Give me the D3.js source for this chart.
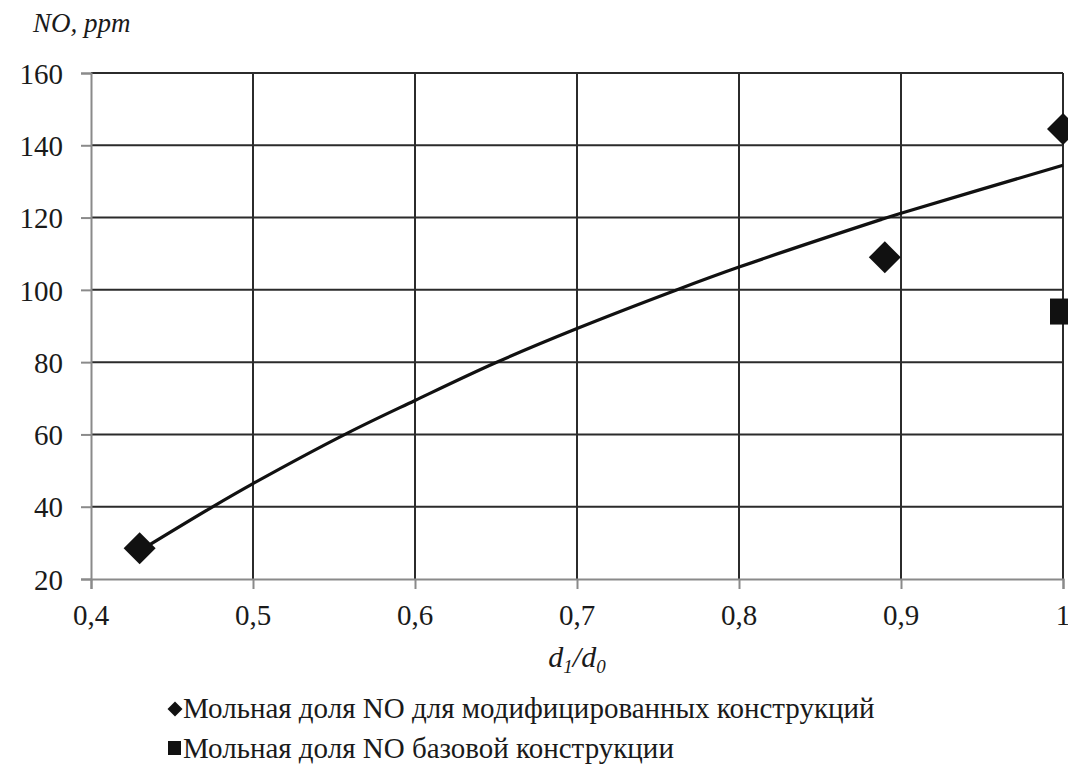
<!DOCTYPE html>
<html>
<head>
<meta charset='utf-8'>
<script src='https://cdn.jsdelivr.net/npm/d3@7'></script>
<style>
  html, body { margin: 0; background: #fff; overflow: hidden; }
  #wrap { position: relative; width: 1068px; height: 783px; overflow: hidden; }
  svg { display: block; position: absolute; left: 0; top: 0; }
  .lbl { position: absolute; white-space: nowrap; line-height: 1; color: #1a1a1a; font-family: 'Liberation Serif', serif; }
</style>
</head>
<body>
<div id='wrap'><svg id='chart'></svg></div>
<script>
const width = 1068
const height = 783

// data
const modX = [0.43, 0.89, 1.0]
const modY = [28.5, 109, 144.5]
const baseX = [1.0]
const baseY = [94]
// trend line, values
const trendX = [0.43, 0.474, 0.5, 0.558, 0.6, 0.649, 0.7, 0.761, 0.8, 0.888, 0.9, 1.0]
const trendY = [27.8, 39.7, 46.4, 60.3, 69.4, 79.7, 89.3, 99.9, 106.3, 119.5, 121.2, 134.5]
const xTicks = [0.4, 0.5, 0.6, 0.7, 0.8, 0.9, 1.0]
const yTicks = [20, 40, 60, 80, 100, 120, 140, 160]
const legendLabels = ['Мольная доля NO для модифицированных конструкций', 'Мольная доля NO базовой конструкции']

const margin = {left: 91, top: 73, right: 5, bottom: 204}

const wrap = d3.select('#wrap')
const svg = d3.select('#chart')
  .attr('width', width)
  .attr('height', height)

const x = d3.scaleLinear()
  .domain([0.4, 1.0])
  .range([margin.left, width - margin.right])

const y = d3.scaleLinear()
  .domain([20, 160])
  .range([height - margin.bottom, margin.top])

const fmt = (d) => d === 1 ? '1' : d3.format('.1f')(d).replace('.', ',')

// labels are html so the serif face is kept; baseline at by
const shift = {start: '0', middle: '-50%', end: '-100%'}
function label(html, lx, by, size, italic, anchor) {
  return wrap.append('div')
    .attr('class', 'lbl')
    .style('left', lx + 'px')
    .style('top', (by - 0.8375 * size) + 'px')
    .style('font-size', size + 'px')
    .style('font-style', italic ? 'italic' : 'normal')
    .style('transform', `translateX(${shift[anchor || 'start']})`)
    .html(html)
}

// grid
svg.append('g')
  .selectAll('line')
  .data(yTicks.slice(1))
  .join('line')
  .attr('x1', x(0.4)).attr('x2', x(1.0))
  .attr('y1', d => y(d)).attr('y2', d => y(d))
  .attr('stroke', '#2b2b2b')
  .attr('stroke-width', 2)

svg.append('g')
  .selectAll('line')
  .data(xTicks.slice(1))
  .join('line')
  .attr('x1', d => x(d)).attr('x2', d => x(d))
  .attr('y1', y(20)).attr('y2', y(160))
  .attr('stroke', '#2b2b2b')
  .attr('stroke-width', 2)

// axes, lines and ticks only
const yAxis = svg.append('g')
  .attr('transform', `translate(${margin.left},0)`)
  .call(d3.axisLeft(y).tickValues(yTicks).tickSize(10).tickFormat(''))
const xAxis = svg.append('g')
  .attr('transform', `translate(0,${y(20)})`)
  .call(d3.axisBottom(x).tickValues(xTicks).tickSize(10).tickFormat(''))
svg.selectAll('.domain, .tick line').attr('stroke', '#8a8a8a').attr('stroke-width', 2)
svg.selectAll('.tick text').remove()

yTicks.forEach(d => label(d3.format('d')(d), 63, y(d) + 11, 29, false, 'end'))
xTicks.forEach(d => label(fmt(d), x(d), 625, 29, false, 'middle'))

// trend line
const line = d3.line()
  .x(d => x(d[0]))
  .y(d => y(d[1]))
  .curve(d3.curveCatmullRom)

svg.append('path')
  .datum(d3.zip(trendX, trendY))
  .attr('d', line)
  .attr('fill', 'none')
  .attr('stroke', '#111')
  .attr('stroke-width', 3.2)

// markers
const diamond = (r) => `M0,${-r}L${r},0L0,${r}L${-r},0Z`

svg.append('g')
  .selectAll('path')
  .data(d3.zip(modX, modY))
  .join('path')
  .attr('transform', d => `translate(${x(d[0])},${y(d[1])})`)
  .attr('d', diamond(16))
  .attr('fill', '#111')

svg.append('g')
  .selectAll('rect')
  .data(d3.zip(baseX, baseY))
  .join('rect')
  .attr('x', d => x(d[0]) - 13)
  .attr('y', d => y(d[1]) - 13)
  .attr('width', 26)
  .attr('height', 26)
  .attr('fill', '#111')

// axis titles
label('NO, ppm', 33, 33, 27, true)
const sub = (t) => `<span style='font-size:19px;position:relative;top:6px'>${t}</span>`
label(`d${sub(1)}/d${sub(0)}`, x(0.7), 667, 30, true, 'middle')

// legend
const legendY = [718, 758]

svg.append('path')
  .attr('transform', `translate(175,${legendY[0] - 9})`)
  .attr('d', diamond(7.5))
  .attr('fill', '#111')

svg.append('rect')
  .attr('x', 168).attr('y', legendY[1] - 17)
  .attr('width', 13).attr('height', 14)
  .attr('fill', '#111')

legendLabels.forEach((d, i) => label(d, 183, legendY[i], 29, false))
</script>
</body>
</html>
